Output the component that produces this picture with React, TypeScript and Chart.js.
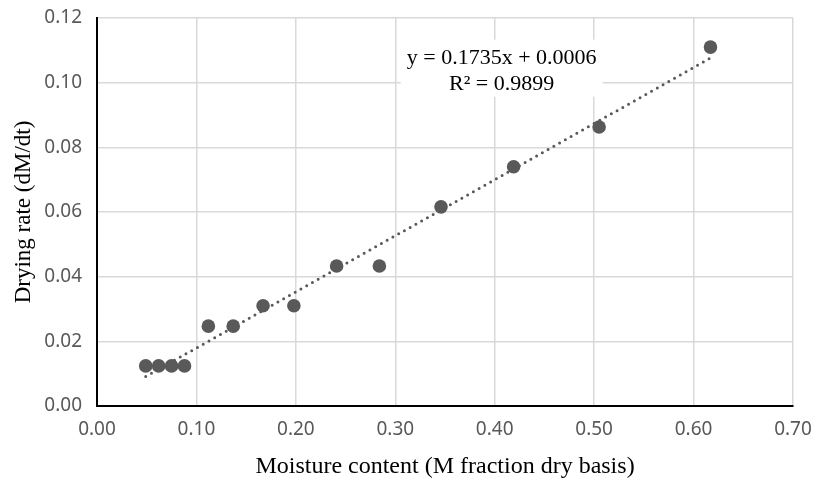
import React, { useEffect, useRef } from "react";
import { Chart, registerables } from "chart.js";

Chart.register(...registerables);

const moisture = [0.049, 0.062, 0.075, 0.088, 0.112, 0.137, 0.167, 0.198, 0.241, 0.284, 0.346, 0.419, 0.505, 0.617];
const dryingRate = [0.0124, 0.0124, 0.0124, 0.0124, 0.0247, 0.0247, 0.031, 0.031, 0.0433, 0.0433, 0.0616, 0.074, 0.0863, 0.111];
const trendSlope = 0.1735;
const trendIntercept = 0.0006;
const equationLines = ["y = 0.1735x + 0.0006", "R² = 0.9899"];
const xTitle = "Moisture content (M fraction dry basis)";
const yTitle = "Drying rate (dM/dt)";

const GRAY = "#595959";
const GRID = "#d9d9d9";

const annotationPlugin = {
  id: "eqLabel",
  afterDatasetsDraw(chart: any) {
    const { ctx, scales } = chart;
    const cx = scales.x.getPixelForValue(0.407);
    const top = scales.y.getPixelForValue(0.1133);
    const w = 202;
    const h = 57;
    ctx.save();
    ctx.fillStyle = "#ffffff";
    ctx.fillRect(cx - w / 2, top, w, h);
    ctx.fillStyle = "#000000";
    ctx.font = '22px "Liberation Serif"';
    ctx.textAlign = "center";
    ctx.textBaseline = "middle";
    ctx.fillText(equationLines[0], cx, top + 19);
    ctx.fillText(equationLines[1], cx, top + 45);
    ctx.restore();
  },
};

export default function App() {
  const ref = useRef<HTMLCanvasElement | null>(null);
  useEffect(() => {
    document.body.style.margin = "0";
    const x0 = moisture[0];
    const x1 = moisture[moisture.length - 1];
    const chart = new Chart(ref.current as HTMLCanvasElement, {
      type: "scatter",
      data: {
        datasets: [
          {
            type: "line",
            data: [
              { x: x0, y: trendSlope * x0 + trendIntercept },
              { x: x1, y: trendSlope * x1 + trendIntercept },
            ],
            borderColor: GRAY,
            borderWidth: 3,
            borderDash: [0, 6.6],
            borderCapStyle: "round",
            pointRadius: 0,
            fill: false,
            order: 2,
          } as any,
          {
            data: moisture.map((m, i) => ({ x: m, y: dryingRate[i] })),
            backgroundColor: GRAY,
            borderColor: GRAY,
            pointRadius: 6.8,
            borderWidth: 0,
            order: 1,
          },
        ],
      },
      options: {
        animation: false,
        responsive: false,
        layout: { padding: { top: 18, right: 28, left: 0, bottom: 0 } },
        plugins: { legend: { display: false }, tooltip: { enabled: false } },
        scales: {
          x: {
            type: "linear",
            min: 0,
            max: 0.7,
            ticks: {
              stepSize: 0.1,
              color: GRAY,
              padding: 12,
              font: { family: '"Noto Sans"', size: 19 },
              callback: (v: any) => Number(v).toFixed(2),
            },
            grid: { color: GRID, lineWidth: 1.5, drawTicks: false },
            border: { color: "#000000", width: 2 },
            title: {
              display: true,
              text: xTitle,
              color: "#000000",
              font: { family: '"Liberation Serif"', size: 24 },
              padding: { top: 0, bottom: 9 },
            },
            afterFit: (s: any) => {
              s.height = 84;
              s.paddingLeft = 0;
              s.paddingRight = 0;
            },
          },
          y: {
            type: "linear",
            min: 0,
            max: 0.12,
            ticks: {
              stepSize: 0.02,
              color: GRAY,
              padding: 15,
              font: { family: '"Noto Sans"', size: 19 },
              callback: (v: any) => Number(v).toFixed(2),
            },
            grid: { color: GRID, lineWidth: 1.5, drawTicks: false },
            border: { color: "#000000", width: 2 },
            title: {
              display: true,
              text: yTitle,
              color: "#000000",
              font: { family: '"Liberation Serif"', size: 23 },
              padding: { top: 10, bottom: 0 },
            },
            afterFit: (s: any) => {
              s.width = 97;
              s.paddingTop = 0;
              s.paddingBottom = 0;
            },
          },
        },
      },
      plugins: [annotationPlugin],
    });
    return () => chart.destroy();
  }, []);
  return <canvas ref={ref} width={821} height={490} style={{ display: "block" }} />;
}
